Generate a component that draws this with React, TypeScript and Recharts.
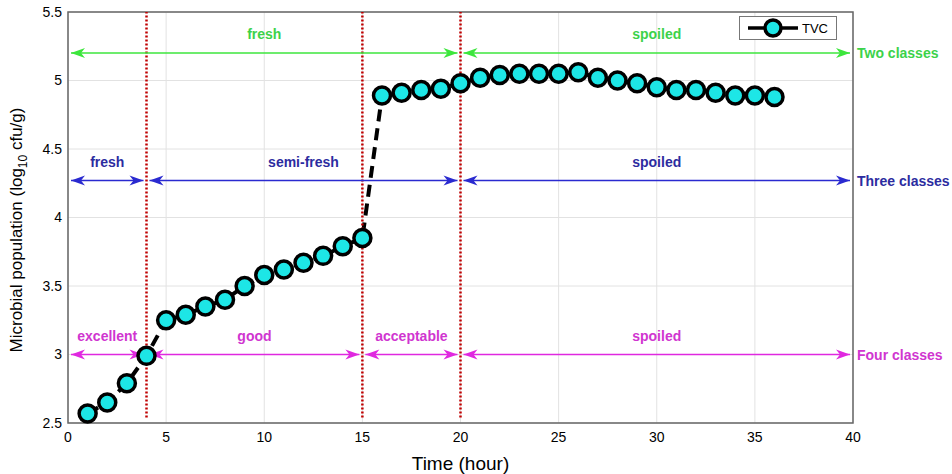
import { LineChart, Line, XAxis, YAxis, CartesianGrid, ReferenceLine, ReferenceArea } from 'recharts';

const hours = [1, 2, 3, 4, 5, 6, 7, 8, 9, 10, 11, 12, 13, 14, 15, 16, 17, 18, 19, 20, 21, 22, 23, 24, 25, 26, 27, 28, 29, 30, 31, 32, 33, 34, 35, 36];
const tvc = [2.57, 2.65, 2.79, 2.99, 3.25, 3.29, 3.35, 3.4, 3.5, 3.58, 3.62, 3.67, 3.72, 3.79, 3.85, 4.89, 4.91, 4.93, 4.94, 4.98, 5.02, 5.04, 5.05, 5.05, 5.05, 5.06, 5.02, 5.0, 4.98, 4.95, 4.93, 4.93, 4.91, 4.89, 4.89, 4.88];

const xTicks = [0, 5, 10, 15, 20, 25, 30, 35, 40];
const yTicks = [2.5, 3, 3.5, 4, 4.5, 5, 5.5];
const boundaries = [4, 15, 20];

const twoClasses = [
  { from: 0, to: 20, label: 'fresh' },
  { from: 20, to: 40, label: 'spoiled' },
];
const threeClasses = [
  { from: 0, to: 4, label: 'fresh' },
  { from: 4, to: 20, label: 'semi-fresh' },
  { from: 20, to: 40, label: 'spoiled' },
];
const fourClasses = [
  { from: 0, to: 4, label: 'excellent' },
  { from: 4, to: 15, label: 'good' },
  { from: 15, to: 20, label: 'acceptable' },
  { from: 20, to: 40, label: 'spoiled' },
];

const data = hours.map((h, i) => ({ hour: h, tvc: tvc[i] }));

const FONT = '"Liberation Sans", Arial, Helvetica, sans-serif';

const rows = [
  { level: 5.2, segs: twoClasses, line: '#3ce63c', text: '#3cd24a', name: 'Two classes' },
  { level: 4.27, segs: threeClasses, line: '#2a2ad0', text: '#2c2ca0', name: 'Three classes' },
  { level: 3.0, segs: fourClasses, line: '#e028e0', text: '#d035d0', name: 'Four classes' },
];

function arrowShape(line: string, text: string, label: string, className?: string) {
  return (p: any) => {
    const y = p.y1;
    const xl = p.x1 + 3;
    const xr = p.x2 - 3;
    return (
      <g>
        <line x1={xl} y1={y} x2={xr} y2={y} stroke={line} strokeWidth={1.5} />
        <path d={`M${xl},${y} L${xl + 14},${y - 5} L${xl + 10},${y} L${xl + 14},${y + 5} Z`} fill={line} />
        <path d={`M${xr},${y} L${xr - 14},${y - 5} L${xr - 10},${y} L${xr - 14},${y + 5} Z`} fill={line} />
        <text x={(p.x1 + p.x2) / 2} y={y - 14} textAnchor="middle" fill={text}
          fontSize={14} fontWeight="bold" fontFamily={FONT}>{label}</text>
        {className && (
          <text x={p.x2 + 4} y={y + 5} fill={text} fontSize={14} fontWeight="bold" fontFamily={FONT}>{className}</text>
        )}
      </g>
    );
  };
}

function Marker(props: any) {
  const { cx, cy } = props;
  if (cx == null || cy == null) return null;
  return <circle cx={cx} cy={cy} r={8.5} fill="#1de6e6" stroke="#000" strokeWidth={3.5} />;
}

function LegendBox() {
  return (
    <div style={{
      position: 'absolute', left: 739, top: 16, width: 96, height: 22, border: '1px solid #777', background: '#fff',
      display: 'flex', alignItems: 'center', fontFamily: FONT, fontSize: 13,
    }}>
      <svg width={62} height={22}>
        <line x1={8} y1={11} x2={58} y2={11} stroke="#000" strokeWidth={3.5} />
        <circle cx={33} cy={11} r={8} fill="#1de6e6" stroke="#000" strokeWidth={3.5} />
      </svg>
      <span>TVC</span>
    </div>
  );
}

function YLabel() {
  return (
    <text transform="translate(22,230) rotate(-90)" textAnchor="middle" fontSize={17} fontFamily={FONT} fill="#000">
      Microbial population (log
      <tspan dy={5} fontSize={12}>10</tspan>
      <tspan dy={-5}> cfu/g)</tspan>
    </text>
  );
}

export default function App() {
  return (
    <div style={{ position: 'absolute', left: 0, top: 0, width: 952, height: 474, background: '#fff' }}>
      <LineChart width={952} height={474} data={data} margin={{ top: 12, right: 99, left: 0, bottom: 0 }}>
        <CartesianGrid stroke="#e2e2e2" />
        <XAxis
          dataKey="hour"
          type="number"
          domain={[0, 40]}
          ticks={xTicks}
          height={51}
          axisLine={false}
          tickLine={false}
          tickMargin={3}
          tick={{ fill: '#000', fontSize: 14, fontFamily: FONT }}
          label={{ value: 'Time (hour)', position: 'insideBottom', offset: 4, fill: '#000', fontSize: 19, fontFamily: FONT }}
        />
        <YAxis
          type="number"
          domain={[2.5, 5.5]}
          ticks={yTicks}
          width={68}
          axisLine={false}
          tickLine={false}
          tickMargin={0}
          tick={{ fill: '#000', fontSize: 14, fontFamily: FONT }}
          label={<YLabel />}
        />
        <ReferenceArea x1={0} x2={40} y1={2.5} y2={5.5} fill="none" stroke="#666" strokeWidth={1.5} />
        <Line
          dataKey="tvc"
          stroke="#000"
          strokeWidth={4}
          strokeDasharray="12 7"
          dot={<Marker />}
          activeDot={false}
          isAnimationActive={false}
        />
        {boundaries.map((b) => (
          <ReferenceLine key={b} segment={[{ x: b, y: 2.54 }, { x: b, y: 5.5 }]}
            stroke="#c00000" strokeWidth={2.5} strokeDasharray="2 2" />
        ))}
        {rows.map((r) =>
          r.segs.map((s, i) => (
            <ReferenceLine
              key={r.name + i}
              segment={[{ x: s.from, y: r.level }, { x: s.to, y: r.level }]}
              shape={arrowShape(r.line, r.text, s.label, i === r.segs.length - 1 ? r.name : undefined)}
            />
          ))
        )}
      </LineChart>
      <LegendBox />
    </div>
  );
}
